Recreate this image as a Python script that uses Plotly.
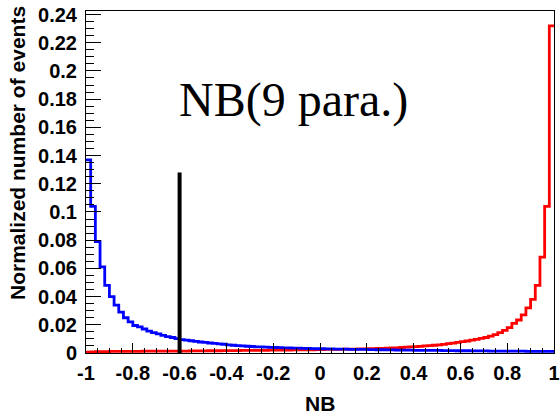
import numpy as np
import plotly.graph_objects as go

# ---- data ----
bin_lo = -1.0
bin_hi = 1.0
n_bins = 100

blue_vals = [
    0.137, 0.104, 0.079, 0.061, 0.048, 0.040, 0.034, 0.029, 0.025, 0.022,
    0.0195, 0.0185, 0.0170, 0.0155, 0.0145, 0.0135, 0.0125, 0.0116, 0.0110, 0.0102,
    0.0095, 0.0091, 0.0087, 0.0082, 0.0078, 0.0075, 0.0071, 0.0068, 0.0065, 0.0062,
    0.0058, 0.0055, 0.0052, 0.0050, 0.0048, 0.0046, 0.0044, 0.0043, 0.0041, 0.0040,
    0.0039, 0.0038, 0.0037, 0.0036, 0.0035, 0.0034, 0.0033, 0.0032, 0.0031, 0.0030,
    0.0030, 0.0029, 0.0029, 0.0028, 0.0028, 0.0027, 0.0026, 0.0026, 0.0025, 0.0025,
    0.0024, 0.0024, 0.0023, 0.0023, 0.0022, 0.0022, 0.0021, 0.0021, 0.0020, 0.0020,
    0.0019, 0.0019, 0.0019, 0.0018, 0.0018, 0.0018, 0.0017, 0.0017, 0.0017, 0.0016,
    0.0016, 0.0016, 0.0015, 0.0015, 0.0015, 0.0015, 0.0014, 0.0014, 0.0014, 0.0014,
    0.0013, 0.0013, 0.0013, 0.0013, 0.0012, 0.0012, 0.0012, 0.0012, 0.0011, 0.0011,
]

red_vals = [
    0.0006, 0.0008, 0.0009, 0.0010, 0.0010, 0.0011, 0.0011, 0.0011, 0.0012, 0.0012,
    0.0012, 0.0012, 0.0013, 0.0013, 0.0013, 0.0013, 0.0013, 0.0014, 0.0014, 0.0014,
    0.0014, 0.0014, 0.0015, 0.0015, 0.0015, 0.0015, 0.0016, 0.0016, 0.0016, 0.0017,
    0.0017, 0.0017, 0.0017, 0.0018, 0.0018, 0.0018, 0.0019, 0.0019, 0.0019, 0.0020,
    0.0020, 0.0020, 0.0021, 0.0021, 0.0022, 0.0022, 0.0022, 0.0023, 0.0023, 0.0024,
    0.0024, 0.0025, 0.0025, 0.0026, 0.0026, 0.0027, 0.0027, 0.0028, 0.0029, 0.0029,
    0.0030, 0.0031, 0.0032, 0.0033, 0.0034, 0.0036, 0.0037, 0.0039, 0.0041, 0.0043,
    0.0045, 0.0047, 0.0050, 0.0052, 0.0055, 0.0058, 0.0061, 0.0066, 0.0070, 0.0075,
    0.0080, 0.0085, 0.0091, 0.0097, 0.0104, 0.0110, 0.0120, 0.0130, 0.0145, 0.0160,
    0.0180, 0.0210, 0.0234, 0.0270, 0.0320, 0.0380, 0.0480, 0.0680, 0.1040, 0.2320,
]

cut_value = -0.6
cut_height = 0.128

x_tickvals = [-1, -0.8, -0.6, -0.4, -0.2, 0, 0.2, 0.4, 0.6, 0.8, 1]
x_ticktext = ["-1", "-0.8", "-0.6", "-0.4", "-0.2", "0", "0.2", "0.4", "0.6", "0.8", "1"]
y_tickvals = [0, 0.02, 0.04, 0.06, 0.08, 0.1, 0.12, 0.14, 0.16, 0.18, 0.2, 0.22, 0.24]
y_ticktext = ["0", "0.02", "0.04", "0.06", "0.08", "0.1", "0.12", "0.14", "0.16", "0.18", "0.2", "0.22", "0.24"]

x_title = "NB"
y_title = "Normalized number of events"
label_text = "NB(9 para.)"

edges = np.linspace(bin_lo, bin_hi, n_bins + 1)

fig = go.Figure()
fig.add_trace(go.Scatter(
    x=edges, y=red_vals + [red_vals[-1]], mode="lines", line_shape="hv",
    line=dict(color="#ff0000", width=2.8), hoverinfo="skip", showlegend=False))
fig.add_trace(go.Scatter(
    x=edges, y=blue_vals + [blue_vals[-1]], mode="lines", line_shape="hv",
    line=dict(color="#0000ff", width=2.8), hoverinfo="skip", showlegend=False))
fig.add_trace(go.Scatter(
    x=[cut_value, cut_value], y=[0, cut_height], mode="lines",
    line=dict(color="black", width=4), hoverinfo="skip", showlegend=False))

L, R, T, B = 86, 6, 11, 62
W, H = 560, 415
pw, ph = W - L - R, H - T - B

sans = "Liberation Sans, Arial, sans-serif"
tickfont = dict(family=sans, size=20, color="black")

fig.update_layout(
    width=W, height=H,
    margin=dict(l=L, r=R, t=T, b=B, autoexpand=False),
    paper_bgcolor="white", plot_bgcolor="white",
    xaxis=dict(
        range=[bin_lo, bin_hi], tickvals=x_tickvals,
        ticktext=["<b>%s</b>" % t for t in x_ticktext],
        ticks="inside", ticklen=10, tickwidth=1, tickcolor="black",
        minor=dict(ticks="inside", ticklen=5, dtick=0.05, tick0=-1, tickcolor="black", tickwidth=1),
        showline=True, linecolor="black", linewidth=1, mirror=True,
        showgrid=False, zeroline=False, tickfont=tickfont, ticklabelstandoff=2,
        ticklabeloverflow="allow", automargin=False,
    ),
    yaxis=dict(
        range=[0, 0.2425], tickvals=y_tickvals,
        ticktext=["<b>%s</b>" % t for t in y_ticktext],
        ticks="inside", ticklen=15, tickwidth=1, tickcolor="black",
        minor=dict(ticks="inside", ticklen=8, dtick=0.005, tick0=0, tickcolor="black", tickwidth=1),
        showline=True, linecolor="black", linewidth=1, mirror=True,
        showgrid=False, zeroline=False, tickfont=tickfont, ticklabelstandoff=4,
        ticklabeloverflow="allow", automargin=False,
    ),
    annotations=[
        dict(text="<b>%s</b>" % y_title, textangle=-90, xref="paper", yref="paper",
             x=(17 - L) / pw, y=(H - B - 4) / ph, xanchor="center", yanchor="top",
             showarrow=False, font=dict(family=sans, size=21, color="black")),
        dict(text="<b>%s</b>" % x_title, xref="paper", yref="paper",
             x=0.5, y=(H - B - 403) / ph, xanchor="center", yanchor="middle",
             showarrow=False, font=dict(family=sans, size=21, color="black")),
        dict(text=label_text, xref="paper", yref="paper",
             x=(177 - L) / pw, y=(H - B - 100) / ph, xanchor="left", yanchor="middle",
             showarrow=False,
             font=dict(family="Liberation Serif, Times New Roman, serif", size=48, color="black")),
    ],
)

fig.write_html("out.html")
